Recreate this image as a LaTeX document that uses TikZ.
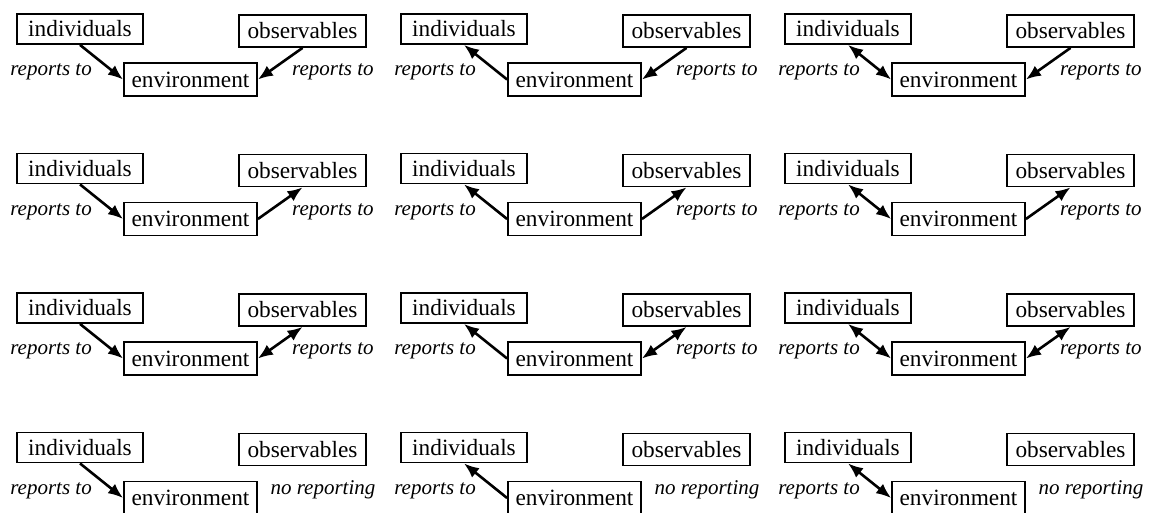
\documentclass[tikz,border=0pt]{standalone}
\usepackage{fontspec}
\setmainfont{Liberation Serif}
\usetikzlibrary{arrows.meta}
\begin{document}
\begin{tikzpicture}[x=1pt,y=-1pt,
  box/.style={draw,line width=1.8pt,inner sep=0pt,font=\fontsize{23.3}{26}\selectfont},
  indbox/.style={box,minimum width=126pt,minimum height=30pt},
  obsbox/.style={box,minimum width=127pt,minimum height=32pt},
  envbox/.style={box,minimum width=133pt,minimum height=33pt},
  link/.style={line width=2.6pt,>={Latex[length=15pt,width=12pt]}},
  tag/.style={font=\fontsize{21}{24}\selectfont\itshape,inner sep=0pt}]
\useasboundingbox (0,0) rectangle (1150,512);
\foreach \r/\ra in {0/{<-},1/{->},2/{<->},3/{}}{
  \foreach \c/\la in {0/{->},1/{<-},2/{<->}}{
    \begin{scope}[shift={(384*\c,139.5*\r)}]
      \node[indbox] (ind-\r-\c) at (80,29) {individuals};
      \node[obsbox] (obs-\r-\c) at (302.5,31) {observables};
      \node[envbox] (env-\r-\c) at (190.5,79.5) {environment};
      \draw[link,\la] (ind-\r-\c.south) -- (env-\r-\c.west);
      \node[tag,anchor=base east] (lt-\r-\c) at (92,75.5) {reports to};
      \ifnum\r<3
        \draw[link,\ra] (env-\r-\c.east) -- (obs-\r-\c.south);
        \node[tag,anchor=base west] (rt-\r-\c) at (292,75.5) {reports to};
      \else
        \node[tag,anchor=base] (rt-\r-\c) at (323,75.5) {no reporting};
      \fi
    \end{scope}
  }
}
\end{tikzpicture}
\end{document}
